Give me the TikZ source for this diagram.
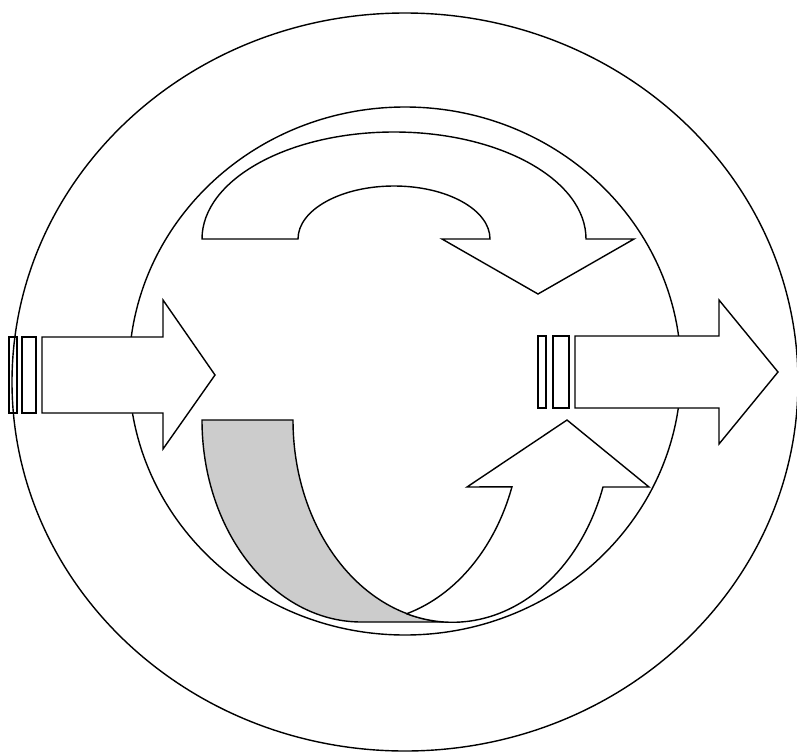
\documentclass[tikz,border=0pt]{standalone}
\usetikzlibrary{positioning}
\tikzset{
  ring/.style     ={draw, line width=0.8pt},
  blk/.style      ={draw, fill=white, line width=0.8pt, line join=miter},
  shadeblk/.style ={draw, fill=black!20, line width=0.8pt, line join=miter},
  stripe/.style   ={draw, line width=0.8pt},
}

\begin{document}
\begin{tikzpicture}[x=0.02cm, y=-0.02cm]
  \useasboundingbox (0,0) rectangle (797,754);
  % centres
  \coordinate (outerc) at (405,382);
  \coordinate (innerc) at (405,371);

  % circles
  \draw[ring] (outerc) ellipse [x radius=393, y radius=369];
  \draw[ring] (innerc) ellipse [x radius=276, y radius=264];

  % incoming striped arrow (left)
  \draw[blk] (42,337) -- (163,337) -- (163,300) -- (215,375)
    -- (163,449) -- (163,413) -- (42,413) -- cycle;
  \draw[stripe] (9,337) rectangle (17,413);
  \draw[stripe] (22,337) rectangle (36,413);

  % outgoing striped arrow (right)
  \draw[blk] (575,336) -- (719,336) -- (719,300) -- (778,372)
    -- (719,444) -- (719,408) -- (575,408) -- cycle;
  \draw[stripe] (538,336) rectangle (546,408);
  \draw[stripe] (553,336) rectangle (569,408);

  % curved arrow over the top
  \draw[blk] (202,239) arc [start angle=180, end angle=360, x radius=192, y radius=107]
    -- (634,239) -- (538,294) -- (442,239) -- (490,239)
    arc [start angle=360, end angle=180, x radius=96, y radius=53] -- cycle;

  % curved arrow at the bottom: shaded back, then the white front
  \draw[shadeblk] (202,420) arc [start angle=180, end angle=90, x radius=159.5, y radius=202]
    -- (452.5,622) arc [start angle=90, end angle=180, x radius=159.5, y radius=202] -- cycle;
  \draw[blk] (407,613.6) arc [start angle=73.4, end angle=19.3, x radius=159.5, y radius=202]
    -- (467,487) -- (567,420) -- (649,487) -- (603,487)
    arc [start angle=19.3, end angle=106.6, x radius=159.5, y radius=202] -- cycle;
\end{tikzpicture}
\end{document}
